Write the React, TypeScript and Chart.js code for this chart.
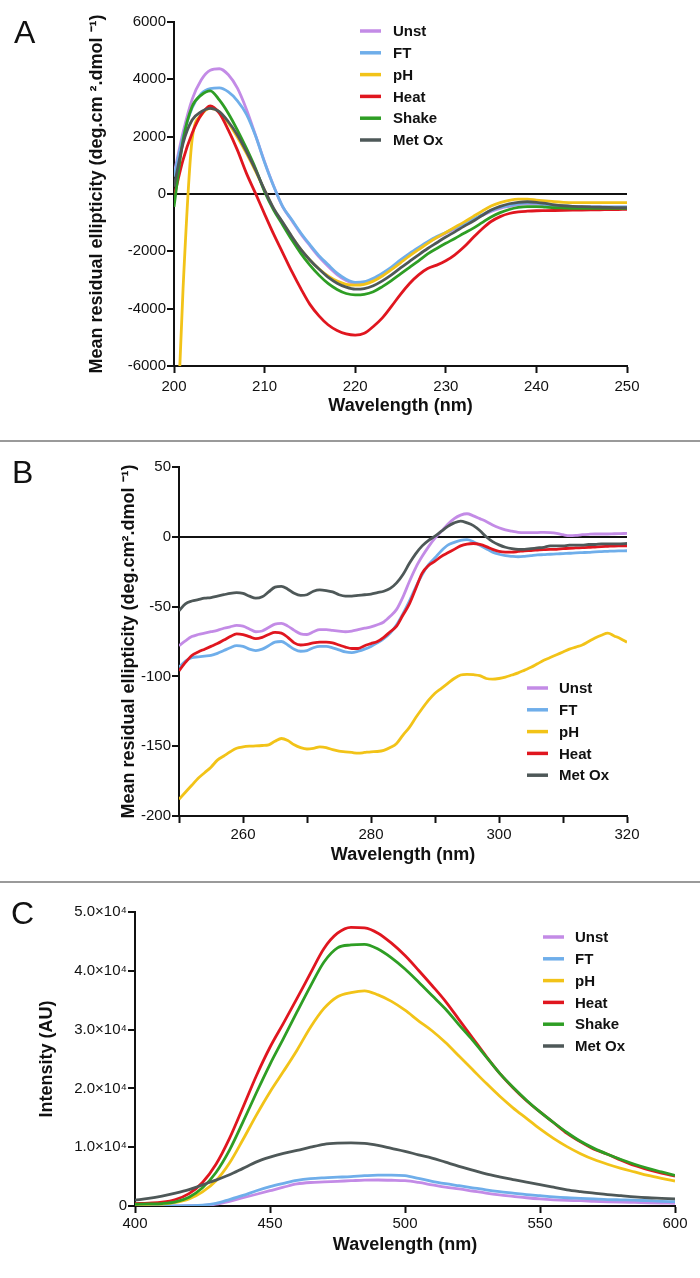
import React, { useEffect, useRef } from 'react';
import { Chart, registerables } from 'chart.js';

Chart.register(...registerables);

const FONT = '"Liberation Sans", Arial, Helvetica, sans-serif';

// ---------- Series names & colours ----------
const NAMES_A = ['Unst', 'FT', 'pH', 'Heat', 'Shake', 'Met Ox'];
const COLORS_A = ['#C38BE6', '#6FAEEA', '#F2C318', '#E0161F', '#2E9E24', '#4E5858'];
const NAMES_B = ['Unst', 'FT', 'pH', 'Heat', 'Met Ox'];
const COLORS_B = ['#C38BE6', '#6FAEEA', '#F2C318', '#E0161F', '#4E5858'];
const NAMES_C = NAMES_A;
const COLORS_C = COLORS_A;

// ---------- Panel A: far-UV CD, 200-250 nm ----------
const WL_A = [
  200, 201, 202, 203, 204, 205, 206, 207, 208, 209,
  210, 211, 212, 213, 214, 215, 216, 217, 218, 219,
  220, 221, 222, 223, 224, 225, 226, 227, 228, 229,
  230, 231, 232, 233, 234, 235, 236, 237, 238, 239,
  240, 241, 242, 243, 244, 245, 246, 247, 248, 249, 250,
];
const A_UNST = [
  700, 2150, 3300, 3980, 4320, 4370, 4160, 3690, 2950, 2050,
  1120, 280, -450, -920, -1390, -1800, -2190, -2520, -2810, -3020,
  -3130, -3110, -2990, -2800, -2590, -2340, -2110, -1900, -1700, -1520,
  -1370, -1220, -1070, -920, -750, -610, -500, -430, -370, -340,
  -350, -380, -410, -430, -440, -445, -450, -450, -455, -455, -455,
];
const A_FT = [
  600, 2000, 3000, 3500, 3680, 3700, 3560, 3250, 2780, 2030,
  1100, 270, -440, -900, -1360, -1770, -2150, -2460, -2760, -2970,
  -3080, -3060, -2940, -2760, -2550, -2300, -2070, -1860, -1660, -1480,
  -1340, -1190, -1040, -880, -720, -580, -470, -400, -340, -310,
  -320, -360, -400, -420, -440, -450, -450, -450, -450, -450, -450,
];
const A_PH = [
  -11000, -3300, 1900, 2750, 2990, 2870, 2480, 1980, 1420, 800,
  130, -520, -1010, -1490, -1930, -2300, -2610, -2860, -3040, -3150,
  -3180, -3150, -3040, -2860, -2640, -2400, -2160, -1940, -1720, -1520,
  -1340, -1160, -980, -790, -600, -420, -300, -220, -180, -180,
  -210, -240, -270, -290, -300, -300, -300, -300, -300, -300, -300,
];
const A_HEAT = [
  -100, 1190, 2120, 2760, 3070, 2820, 2230, 1530, 720, 20,
  -700, -1400, -2050, -2700, -3300, -3850, -4250, -4560, -4760, -4880,
  -4920, -4860, -4620, -4320, -3920, -3500, -3120, -2820, -2600, -2480,
  -2330, -2120, -1850, -1530, -1220, -960, -790, -680, -625, -600,
  -585, -580, -575, -570, -565, -560, -555, -550, -545, -540, -535,
];
const A_SHAKE = [
  -450, 1880, 3050, 3450, 3600, 3280, 2810, 2230, 1590, 890,
  80, -560, -1080, -1600, -2070, -2480, -2830, -3120, -3330, -3470,
  -3520, -3500, -3410, -3230, -3020, -2790, -2560, -2330, -2090, -1900,
  -1720, -1550, -1370, -1200, -1000, -800, -650, -540, -470, -440,
  -440, -460, -480, -490, -500, -500, -500, -500, -500, -500, -500,
];
const A_METOX = [
  250, 1770, 2580, 2870, 2990, 2870, 2520, 2060, 1480, 840,
  140, -500, -990, -1480, -1930, -2300, -2620, -2900, -3110, -3250,
  -3320, -3300, -3200, -3030, -2820, -2580, -2350, -2120, -1900, -1700,
  -1500, -1320, -1130, -950, -750, -560, -430, -340, -290, -270,
  -290, -330, -380, -410, -430, -440, -450, -460, -470, -475, -480,
];
const SERIES_A = [A_UNST, A_FT, A_PH, A_HEAT, A_SHAKE, A_METOX];

// ---------- Panel B: near-UV CD, 250-320 nm ----------
const WL_B = [
  250, 251, 252, 253, 254, 255, 256, 257, 258, 259,
  260, 261, 262, 263, 264, 265, 266, 267, 268, 269,
  270, 271, 272, 273, 274, 275, 276, 277, 278, 279,
  280, 281, 282, 283, 284, 285, 286, 287, 288, 289,
  290, 291, 292, 293, 294, 295, 296, 297, 298, 299,
  300, 301, 302, 303, 304, 305, 306, 307, 308, 309,
  310, 311, 312, 313, 314, 315, 316, 317, 318, 319, 320,
];
const B_UNST = [
  -78, -74.5, -71.5, -70, -69, -68, -67, -65.5, -64.5, -63.5,
  -64, -66, -68, -67.5, -65, -62.5, -62, -64, -67, -69.5,
  -70, -68, -66.5, -66.5, -67, -67.5, -68, -67.5, -66.5, -65.5,
  -64.5, -63, -61, -57, -52, -43, -32, -22, -14, -7,
  -1, 4, 9, 13, 15.5, 16.5, 15, 13, 11, 8.5,
  6.5, 5, 4, 3.2, 3, 3, 3, 3.2, 3, 2.5,
  1.5, 0.8, 1, 1.5, 1.8, 2, 2, 2, 2.2, 2.3, 2.4,
];
const B_FT = [
  -93.5, -89, -86.5, -86, -85.5, -85, -83.5, -81.5, -79.5, -78,
  -78.5, -80.5, -81.5, -80.5, -78, -75.5, -75, -77.5, -80.5, -82,
  -81.5, -79.5, -78.5, -78.5, -79.5, -81, -82.5, -83, -82, -80.5,
  -78.5, -76, -73, -69, -63, -55, -46, -36, -27, -20,
  -15, -10, -6, -4, -2.5, -2, -3.5, -6, -8.5, -11,
  -12.5, -13.5, -14, -14.3, -14, -13.5, -13, -12.8, -12.5, -12.3,
  -12, -11.8, -11.5, -11.3, -11.1, -10.8, -10.6, -10.4, -10.2, -10.1, -10,
];
const B_PH = [
  -188, -183, -178, -173, -169, -165, -160, -157, -154, -151.5,
  -150.5, -150, -149.8, -149.5, -149, -146.5, -144.5, -146, -149, -151,
  -152, -151.5, -150.5, -151, -152.5, -153.5, -154, -154.5, -155, -154.5,
  -154, -153.8, -153, -151, -148, -142, -136.5, -129.5, -123, -117,
  -112, -108.5, -105, -101.5, -99, -98.5, -98.8, -99.5, -101.5, -102,
  -101.5, -100.5, -99, -97.5, -95.5, -93.5, -91, -88.5, -86.5, -84.5,
  -82.5, -80.5, -79, -77.5, -75, -72.5, -70.5, -69, -71, -73, -75.5,
];
const B_HEAT = [
  -96, -90, -85, -82.5, -80.5, -78.5, -76.5, -74, -71.5, -69.5,
  -70, -71.5, -73, -72, -70, -68.5, -69, -72, -76, -77.5,
  -77, -76, -75.5, -75.5, -76, -77.5, -79, -80, -80, -78,
  -76.5, -75, -72, -68, -64, -56, -48, -37, -26, -20.5,
  -17.5, -14, -11.5, -9, -6.5, -5.2, -4.8, -5.5, -7, -9,
  -10.5, -11, -11, -10.5, -10, -9.8, -9.5, -9.2, -9, -9,
  -8.5, -8.2, -8, -7.8, -7.6, -7.3, -7, -6.8, -6.6, -6.5, -6.4,
];
const B_METOX = [
  -53, -48, -46, -45, -44, -43.5, -42.5, -41.5, -40.5, -40,
  -40.5, -42.5, -44, -43, -39.5, -36, -35.5, -37.5, -40.5, -42,
  -41.5, -39, -38, -38.5, -39.5, -41.5, -42.5, -42.5, -42, -41.5,
  -41, -40, -39, -37, -33, -27, -19, -12, -6.5, -2.5,
  0.5, 4, 7.5, 10, 11.3, 10, 8, 4.5, 0, -3.5,
  -5.8, -7.5, -8.5, -9, -9, -8.5, -8, -7.5, -6.5, -6.5,
  -6.5, -6, -6, -6, -5.5, -5.5, -5, -5, -5, -5, -4.8,
];
const SERIES_B = [B_UNST, B_FT, B_PH, B_HEAT, B_METOX];

// ---------- Panel C: fluorescence, 400-600 nm ----------
const WL_C = [
  400, 405, 410, 415, 420, 425, 430, 435, 440, 445,
  450, 455, 460, 465, 470, 475, 480, 485, 490, 495,
  500, 505, 510, 515, 520, 525, 530, 535, 540, 545,
  550, 555, 560, 565, 570, 575, 580, 585, 590, 595, 600,
];
const C_UNST = [
  20, 10, 10, 20, 40, 100, 300, 800, 1400, 2000,
  2600, 3200, 3750, 4000, 4100, 4200, 4300, 4400, 4420, 4380,
  4300, 4000, 3600, 3200, 2900, 2550, 2200, 1900, 1650, 1400,
  1200, 1050, 950, 900, 800, 720, 650, 600, 550, 500, 450,
];
const C_FT = [
  30, 20, 20, 30, 60, 150, 450, 1100, 1800, 2600,
  3300, 3850, 4350, 4650, 4800, 4900, 5000, 5150, 5250, 5250,
  5150, 4700, 4200, 3800, 3450, 3100, 2750, 2450, 2200, 1950,
  1750, 1550, 1400, 1300, 1200, 1100, 1050, 1000, 900, 800, 740,
];
const C_PH = [
  250, 300, 330, 600, 1200, 2400, 4300, 7300, 11300, 15500,
  19400, 22900, 26500, 30400, 33600, 35600, 36300, 36600, 35900, 34800,
  33300, 31500, 29800, 27800, 25500, 23200, 20900, 18700, 16700, 14900,
  13100, 11500, 10100, 8900, 7900, 7100, 6400, 5800, 5200, 4700, 4250,
];
const C_HEAT = [
  400, 500, 650, 1100, 2100, 4000, 7100, 11500, 16800, 22200,
  27000, 31100, 35300, 39600, 43800, 46400, 47400, 47300, 46400, 44700,
  42600, 40100, 37500, 34800, 31700, 28600, 25500, 22600, 20100, 17900,
  16000, 14200, 12350, 10900, 9650, 8800, 7800, 6900, 6200, 5600, 5100,
];
const C_SHAKE = [
  300, 350, 420, 700, 1500, 3100, 5700, 9500, 14300, 19300,
  24100, 28500, 33000, 37400, 41500, 43900, 44400, 44500, 43700, 42200,
  40300, 38100, 35800, 33500, 30800, 28200, 25400, 22600, 20200, 18000,
  16000, 14200, 12500, 11000, 9800, 8800, 7900, 7100, 6400, 5800, 5200,
];
const C_METOX = [
  1000, 1300, 1700, 2200, 2800, 3600, 4400, 5300, 6400, 7500,
  8300, 8950, 9450, 10000, 10500, 10700, 10750, 10650, 10300, 9800,
  9300, 8700, 8150, 7450, 6750, 6100, 5450, 4950, 4500, 4050,
  3650, 3200, 2750, 2450, 2200, 1950, 1750, 1550, 1400, 1300, 1200,
];
const SERIES_C = [C_UNST, C_FT, C_PH, C_HEAT, C_SHAKE, C_METOX];

// ---------- Tick labels ----------
const Y_TICK_FMT_C = (v: number) => (v === 0 ? '0' : (v / 10000).toFixed(1) + '×10⁴');
const X_LABELS_B = [260, 280, 300, 320];

// ---------- Fixed-position legend plugin ----------
const fixedLegend = {
  id: 'fixedLegend',
  afterDraw(chart: any, _args: any, opts: any) {
    const ctx = chart.ctx;
    ctx.save();
    ctx.font = `bold 15px ${FONT}`;
    ctx.textBaseline = 'middle';
    ctx.textAlign = 'left';
    chart.data.datasets.forEach((ds: any, i: number) => {
      const y = opts.y + i * opts.rowH;
      ctx.strokeStyle = ds.borderColor;
      ctx.lineWidth = 3.5;
      ctx.beginPath();
      ctx.moveTo(opts.x, y);
      ctx.lineTo(opts.x + 21, y);
      ctx.stroke();
      ctx.fillStyle = '#111';
      ctx.fillText(ds.label, opts.textX, y + 1);
    });
    ctx.restore();
  },
};

function buildDatasets(wl: number[], series: number[][], names: string[], colors: string[]) {
  return series.map((vals, i) => ({
    label: names[i],
    data: wl.map((x, j) => ({ x, y: vals[j] })),
    borderColor: colors[i],
    backgroundColor: colors[i],
    borderWidth: 2.8,
    pointRadius: 0,
    cubicInterpolationMode: 'monotone' as const,
    fill: false,
    order: series.length - i,
  }));
}

interface AxOpts {
  xMin: number; xMax: number; xStep: number; xCb: (v: number) => string; xTickPad: number;
  yMin: number; yMax: number; yStep: number; yCb: (v: number) => string;
  yTitle: string; yTitlePad: number; xTitlePad: number;
  yWidth: number; xHeight: number; zero: boolean;
  padding: { left: number; right: number; top: number; bottom: number };
  legend: { x: number; textX: number; y: number; rowH: number };
}

function makeConfig(datasets: any[], o: AxOpts): any {
  const tickFont = { family: FONT, size: 15 };
  const titleFont = { family: FONT, size: 18, weight: 'bold' as const };
  return {
    type: 'line',
    data: { datasets },
    plugins: [fixedLegend],
    options: {
      responsive: false,
      animation: false,
      devicePixelRatio: 1,
      events: [],
      layout: { padding: o.padding },
      plugins: {
        legend: { display: false },
        tooltip: { enabled: false },
        fixedLegend: o.legend,
      },
      scales: {
        x: {
          type: 'linear',
          min: o.xMin,
          max: o.xMax,
          afterFit: (s: any) => { s.height = o.xHeight; },
          border: { display: true, color: '#111', width: 2 },
          grid: { drawOnChartArea: false, drawTicks: true, tickLength: 7, tickColor: '#111', tickWidth: 2, color: '#111' },
          ticks: { stepSize: o.xStep, autoSkip: false, maxRotation: 0, padding: o.xTickPad, color: '#111', font: tickFont, callback: o.xCb },
          title: { display: true, text: 'Wavelength (nm)', color: '#111', font: titleFont, padding: { top: 0, bottom: o.xTitlePad } },
        },
        y: {
          type: 'linear',
          min: o.yMin,
          max: o.yMax,
          afterFit: (s: any) => { s.width = o.yWidth; },
          border: { display: true, color: '#111', width: 2 },
          grid: {
            drawOnChartArea: o.zero,
            drawTicks: true,
            tickLength: 7,
            tickColor: '#111',
            tickWidth: 2,
            lineWidth: 2,
            color: (c: any) => (c.tick && c.tick.value === 0 ? '#111' : 'rgba(0,0,0,0)'),
          },
          ticks: { stepSize: o.yStep, autoSkip: false, padding: 1, color: '#111', font: tickFont, callback: o.yCb },
          title: { display: true, text: o.yTitle, color: '#111', font: titleFont, padding: { top: o.yTitlePad, bottom: 0 } },
        },
      },
    },
  };
}

function ChartPanel({ top, height, config }: { top: number; height: number; config: () => any }) {
  const ref = useRef<HTMLCanvasElement | null>(null);
  useEffect(() => {
    if (!ref.current) return;
    const chart = new Chart(ref.current, config());
    return () => chart.destroy();
  }, []);
  return (
    <canvas
      ref={ref}
      width={700}
      height={height}
      style={{ position: 'absolute', left: 0, top, width: 700, height, display: 'block' }}
    />
  );
}

const letterStyle = (top: number, left: number): React.CSSProperties => ({
  position: 'absolute',
  top,
  left,
  fontFamily: FONT,
  fontSize: 32,
  lineHeight: '32px',
  color: '#111',
});

const sepStyle = (top: number): React.CSSProperties => ({
  position: 'absolute',
  top,
  left: 0,
  width: 700,
  height: 2,
  background: '#9a9a9a',
});

export default function App() {
  const configA = () =>
    makeConfig(buildDatasets(WL_A, SERIES_A, NAMES_A, COLORS_A), {
      xMin: 200, xMax: 250, xStep: 10, xCb: (v) => String(v), xTickPad: 5,
      yMin: -6000, yMax: 6000, yStep: 2000, yCb: (v) => String(v),
      yTitle: 'Mean residual ellipticity (deg.cm ².dmol ⁻¹)',
      yTitlePad: 86, xTitlePad: 23, yWidth: 174, xHeight: 74, zero: true,
      padding: { left: 0, right: 73, top: 22, bottom: 0 },
      legend: { x: 360, textX: 393, y: 31, rowH: 21.8 },
    });
  const configB = () =>
    makeConfig(buildDatasets(WL_B, SERIES_B, NAMES_B, COLORS_B), {
      xMin: 250, xMax: 320, xStep: 10, xCb: (v) => (X_LABELS_B.includes(v) ? String(v) : ''), xTickPad: 3,
      yMin: -200, yMax: 50, yStep: 50, yCb: (v) => String(v),
      yTitle: 'Mean residual ellipticity (deg.cm².dmol ⁻¹)',
      yTitlePad: 118, xTitlePad: 16, yWidth: 179, xHeight: 66, zero: true,
      padding: { left: 0, right: 73, top: 24, bottom: 0 },
      legend: { x: 527, textX: 559, y: 245, rowH: 21.8 },
    });
  const configC = () =>
    makeConfig(buildDatasets(WL_C, SERIES_C, NAMES_C, COLORS_C), {
      xMin: 400, xMax: 600, xStep: 50, xCb: (v) => String(v), xTickPad: 2,
      yMin: 0, yMax: 50000, yStep: 10000, yCb: Y_TICK_FMT_C,
      yTitle: 'Intensity (AU)',
      yTitlePad: 36, xTitlePad: 22, yWidth: 135, xHeight: 72, zero: false,
      padding: { left: 0, right: 25, top: 28, bottom: 0 },
      legend: { x: 543, textX: 575, y: 53, rowH: 21.8 },
    });

  return (
    <div style={{ position: 'absolute', left: 0, top: 0, width: 700, height: 1278, background: '#fff', overflow: 'hidden' }}>
      <ChartPanel top={0} height={440} config={configA} />
      <div style={sepStyle(440)} />
      <ChartPanel top={443} height={439} config={configB} />
      <div style={sepStyle(881)} />
      <ChartPanel top={884} height={394} config={configC} />
      <div style={letterStyle(16, 14)}>A</div>
      <div style={letterStyle(456, 12)}>B</div>
      <div style={letterStyle(897, 11)}>C</div>
    </div>
  );
}
